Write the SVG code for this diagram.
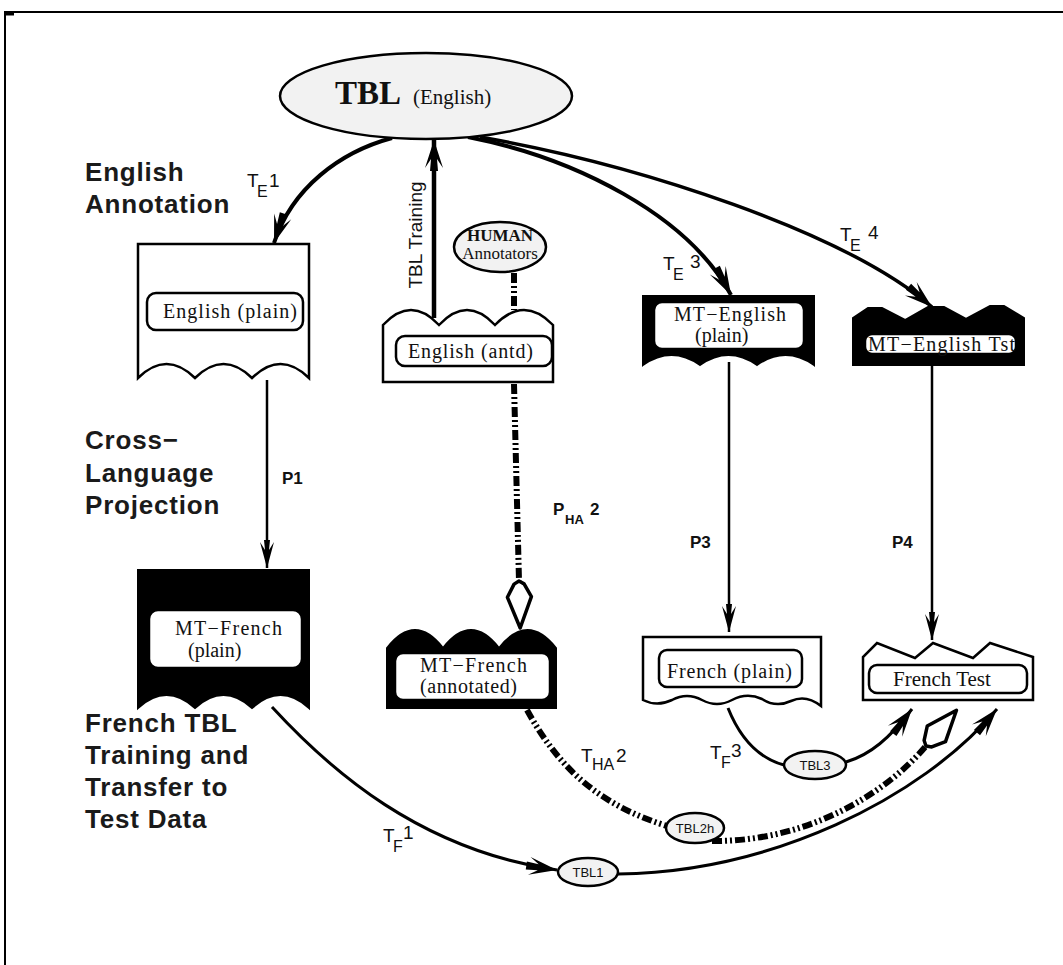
<svg xmlns="http://www.w3.org/2000/svg" width="1063" height="965" viewBox="0 0 1063 965">
<style>
.w{fill:#fff;stroke:#000;stroke-width:2.5}
.b{fill:#000;stroke:#000;stroke-width:2}
.in{fill:#fff;stroke:#000;stroke-width:2.5}
.lbl{font-family:"Liberation Serif","Times New Roman",serif;font-size:20px;fill:#111}
.sec{font-family:"Liberation Sans",Arial,sans-serif;font-weight:bold;font-size:26px;letter-spacing:0.8px;fill:#1a1a1a}
.t{font-family:"Liberation Sans",Arial,sans-serif;font-size:19px;fill:#111}
.s{font-size:16px}
.p{font-family:"Liberation Sans",Arial,sans-serif;font-weight:bold;font-size:17px;fill:#111}
.tb{font-family:"Liberation Sans",Arial,sans-serif;font-size:13px;fill:#111}
.ln{fill:none;stroke:#000}
.dash{fill:none;stroke:#000;stroke-width:6;stroke-dasharray:10 3 2 3 2 3}
.ell{fill:#f2f2f2;stroke:#000;stroke-width:2.5}
</style>
<defs>
<marker id="arr" viewBox="-32 -11 34 22" refX="0" refY="0" markerWidth="34" markerHeight="22" markerUnits="userSpaceOnUse" orient="auto">
<path d="M0,0 L-28,-9 L-19,-3 L-31,-4 L-31,4 L-19,3 L-28,9 Z" fill="#000"/>
</marker>
<marker id="arrs" viewBox="-32 -11 34 22" refX="0" refY="0" markerWidth="34" markerHeight="22" markerUnits="userSpaceOnUse" orient="auto">
<path d="M0,0 L-26,-7 L-18,-2 L-28,-3 L-28,3 L-18,2 L-26,7 Z" fill="#000"/>
</marker>
<marker id="kite" viewBox="-3 -15 54 30" refX="0" refY="0" markerWidth="54" markerHeight="30" markerUnits="userSpaceOnUse" orient="auto">
<path d="M0,0 L3,-5 L16,-12 L47,0 L16,12 L3,5 Z" fill="#fff" stroke="#000" stroke-width="3.5" stroke-linejoin="round"/>
</marker>
</defs>
<rect width="1063" height="965" fill="#fff"/>
<path d="M5,965 V12 H1063" fill="none" stroke="#000" stroke-width="2"/>
<path d="M5,14 H14" stroke="#000" stroke-width="3"/>

<g id="section-labels">
<text class="sec" x="85" y="181">English</text>
<text class="sec" x="85" y="213">Annotation</text>
<text class="sec" x="85" y="449">Cross−</text>
<text class="sec" x="85" y="482">Language</text>
<text class="sec" x="85" y="514">Projection</text>
<text class="sec" x="85" y="732">French TBL</text>
<text class="sec" x="85" y="764">Training and</text>
<text class="sec" x="85" y="796">Transfer to</text>
<text class="sec" x="85" y="828">Test Data</text>
</g>

<g id="connectors">
<path class="ln" d="M392,138 C340,152 292,188 274,243" stroke-width="4" marker-end="url(#arr)"/>
<path class="ln" d="M468,137 C575,158 688,215 731,295" stroke-width="4" marker-end="url(#arr)"/>
<path class="ln" d="M480,137 C640,165 845,232 932,307" stroke-width="3.5" marker-end="url(#arr)"/>
<path class="ln" d="M434,318 V140" stroke-width="4.5" marker-end="url(#arr)"/>
<path class="ln" d="M267,380 V568" stroke-width="2.5" marker-end="url(#arrs)"/>
<path class="ln" d="M729,362 V632" stroke-width="2.5" marker-end="url(#arrs)"/>
<path class="ln" d="M932,366 V640" stroke-width="2.5" marker-end="url(#arrs)"/>
<path class="dash" d="M514,273 V310"/>
<path class="dash" d="M514,384 L519,581" marker-end="url(#kite)"/>
<path class="ln" d="M272,707 C330,770 420,850 557,870" stroke-width="3" marker-end="url(#arr)"/>
<path class="ln" d="M618,874 C770,872 920,800 997,709" stroke-width="3" marker-end="url(#arr)"/>
<path class="ln" d="M728,708 C740,738 758,758 784,765" stroke-width="3"/>
<path class="ln" d="M846,762 C870,755 890,738 912,709" stroke-width="3" marker-end="url(#arr)"/>
<path class="dash" d="M527,710 C560,770 600,805 667,826"/>
<path class="dash" d="M712,841 C800,842 880,800 926,746" marker-end="url(#kite)"/>
</g>

<g id="connector-labels">
<text class="t" x="247" y="187">T</text><text class="t s" x="257" y="197">E</text><text class="t" x="269" y="187">1</text>
<text class="t" x="663" y="270">T</text><text class="t s" x="673" y="280">E</text><text class="t" x="690" y="268">3</text>
<text class="t" x="840" y="241">T</text><text class="t s" x="850" y="251">E</text><text class="t" x="868" y="239">4</text>
<text class="p" x="282" y="484">P1</text>
<text class="p" x="553" y="515">P</text><text class="p" x="565" y="524" style="font-size:13px">HA</text><text class="p" x="590" y="515">2</text>
<text class="p" x="690" y="548">P3</text>
<text class="p" x="892" y="548">P4</text>
<text class="t" x="383" y="842">T</text><text class="t s" x="393" y="852">F</text><text class="t" x="403" y="839">1</text>
<text class="t" x="581" y="762">T</text><text class="t s" x="592" y="770">HA</text><text class="t" x="616" y="762">2</text>
<text class="t" x="710" y="759">T</text><text class="t s" x="721" y="768">F</text><text class="t" x="731" y="757">3</text>
<text class="t" transform="translate(422,235) rotate(-90)" text-anchor="middle" style="font-size:19px">TBL Training</text>
</g>

<g id="tbl-english">
<ellipse class="ell" cx="426" cy="96" rx="146" ry="43"/>
<text x="335" y="104" style="font-family:'Liberation Serif',serif;font-weight:bold;font-size:33px" fill="#111">TBL</text>
<text class="lbl" x="413" y="104" style="font-size:21px">(English)</text>
</g>

<g id="human-annotators">
<ellipse class="ell" cx="500" cy="247" rx="46" ry="25"/>
<text x="500" y="241" text-anchor="middle" style="font-family:'Liberation Serif',serif;font-weight:bold;font-size:17px" fill="#111">HUMAN</text>
<text x="500" y="259" text-anchor="middle" style="font-family:'Liberation Serif',serif;font-size:17px" fill="#111">Annotators</text>
</g>

<g id="english-plain">
<path class="w" d="M138,244 H309 V378 Q280.5,350 252,378 Q223.5,350 195,378 Q166.5,350 138,378 Z"/>
<rect class="in" x="147" y="293" width="156" height="37" rx="9"/>
<text class="lbl" x="163" y="318" textLength="134">English (plain)</text>
</g>

<g id="english-antd">
<path class="w" d="M383,325 Q411,295 439,325 Q467,295 495,325 Q524,295 553,325 V382 H383 Z"/>
<rect class="in" x="396" y="336" width="156" height="30" rx="9"/>
<text class="lbl" x="408" y="358" textLength="125">English (antd)</text>
</g>

<g id="mt-english-plain">
<path class="b" d="M643,296 H814 V365 Q785.5,345 757,365 Q728.5,345 700,365 Q671.5,345 643,365 Z"/>
<rect class="in" x="654" y="302" width="150" height="47" rx="8"/>
<text class="lbl" x="674" y="321" textLength="112">MT−English</text>
<text class="lbl" x="695" y="342">(plain)</text>
</g>

<g id="mt-english-tst">
<path class="b" d="M853,365 V318 L868,308 L882,308 L905,320 L928,307 L944,307 L966,319 L990,306 L1004,306 L1024,318 V365 Z"/>
<rect class="in" x="865" y="334" width="151" height="20" rx="7"/>
<text class="lbl" x="868" y="351" textLength="147">MT−English Tst</text>
</g>

<g id="mt-french-plain">
<path class="b" d="M138,570 H309 V708 Q280.5,682 252,708 Q223.5,682 195,708 Q166.5,682 138,708 Z"/>
<rect class="in" x="149" y="610" width="153" height="58" rx="9"/>
<text class="lbl" x="175" y="635" textLength="107">MT−French</text>
<text class="lbl" x="188" y="657">(plain)</text>
</g>

<g id="mt-french-annotated">
<path class="b" d="M387,648 Q415,612 443,648 Q471,612 499,648 Q527.5,612 556,648 V708 H387 Z"/>
<rect class="in" x="395" y="653" width="155" height="47" rx="8"/>
<text class="lbl" x="420" y="672" textLength="107">MT−French</text>
<text class="lbl" x="420" y="693" textLength="97">(annotated)</text>
</g>

<g id="french-plain">
<path class="w" d="M643,637 H821 V706 Q806,694 791,701 Q776,708 762,699 Q747,692 732,700 Q717,708 702,700 Q687,692 672,700 Q657,707 643,700 Z"/>
<rect class="in" x="659" y="650" width="143" height="37" rx="8"/>
<text class="lbl" x="667" y="678" textLength="125">French (plain)</text>
</g>

<g id="french-test">
<path class="w" d="M863,700 V657 L877,643 L915,658 L933,643 L973,658 L990,643 L1033,657 V700 Z"/>
<rect class="in" x="869" y="665" width="158" height="28" rx="8"/>
<text class="lbl" x="893" y="686" style="font-size:21px">French Test</text>
</g>

<g id="tbl3">
<ellipse class="ell" cx="815" cy="765" rx="31" ry="14"/>
<text class="tb" x="815" y="770" text-anchor="middle">TBL3</text>
</g>
<g id="tbl2h">
<ellipse class="ell" cx="695" cy="828" rx="29" ry="15"/>
<text class="tb" x="695" y="833" text-anchor="middle">TBL2h</text>
</g>
<g id="tbl1">
<ellipse class="ell" cx="588" cy="872" rx="30" ry="14"/>
<text class="tb" x="588" y="877" text-anchor="middle">TBL1</text>
</g>
</svg>
